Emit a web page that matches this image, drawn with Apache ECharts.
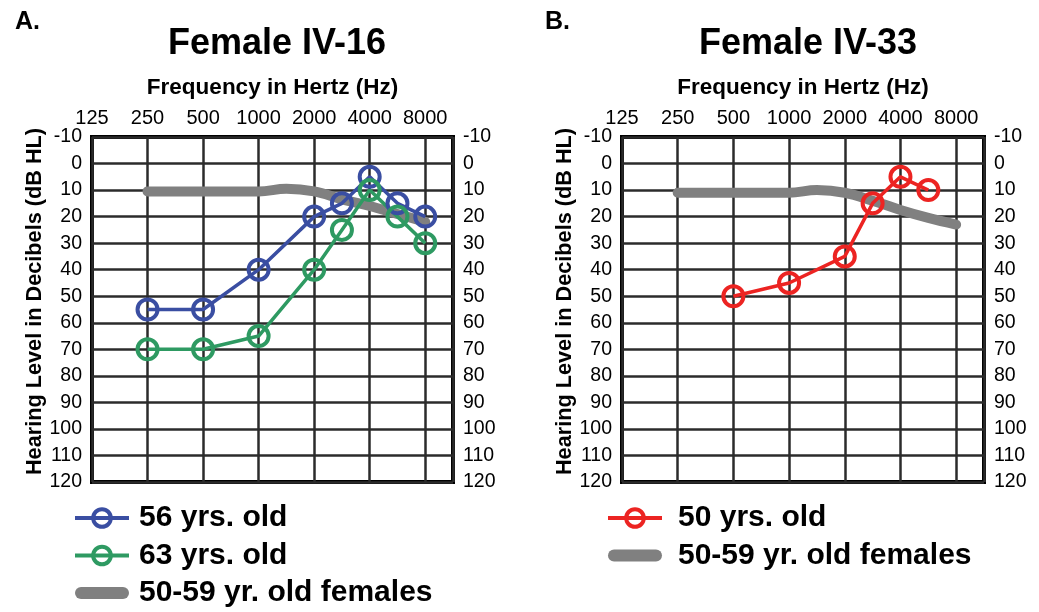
<!DOCTYPE html>
<html>
<head>
<meta charset="utf-8">
<script src="https://cdn.jsdelivr.net/npm/echarts@6/dist/echarts.min.js"></script>
<style>
    * { margin: 0; padding: 0; }
    body { background: #fff; }
</style>
</head>
<body>
<div id="chart" style="width:1039px; height:612px;"></div>
<script>
    // tick labels of the audiogram (Hz)
    var freqTicks = [125, 250, 500, 1000, 2000, 4000, 8000];

    // Female IV-16
    var freqA56 = [250, 500, 1000, 2000, 3000, 4000, 6000, 8000];
    var levelA56 = [55, 55, 40, 20, 15, 5, 15, 20];
    var freqA63 = [250, 500, 1000, 2000, 3000, 4000, 6000, 8000];
    var levelA63 = [70, 70, 65, 40, 25, 10, 20, 30];
    var freqNormA = [250, 500, 1000, 1500, 2000, 3000, 4000, 6000, 8000];
    var levelNormA = [10.5, 10.5, 10.5, 9.5, 10.5, 13.5, 16, 19, 22];

    // Female IV-33
    var freqB50 = [500, 1000, 2000, 3000, 4000, 6000];
    var levelB50 = [50, 45, 35, 15, 5, 10];
    var freqNormB = [250, 500, 1000, 1500, 2000, 3000, 4000, 6000, 8000];
    var levelNormB = [11, 11, 11, 10, 11, 14, 17.5, 20.5, 23];

    var FONT = '"Liberation Sans", Arial, sans-serif';
    var GRID_LINE = '#2b2b2b';
    // rounded bar used as legend icon of the normative band
    var BAND_ICON = 'path://M6,0 H48 A6,6 0 0 1 48,12 H6 A6,6 0 0 1 6,0 Z';

    // audiogram convention: octave steps, inter-octave freqs half way
    function octave(f) {
        return Math.round(Math.log2(f / 125) * 2) / 2;
    }
    function pts(freqs, levels) {
        return freqs.map(function (f, i) { return [octave(f), levels[i]]; });
    }

    function xAxis(gridIndex) {
        return {
            type: 'value', gridIndex: gridIndex, position: 'top',
            min: 0, max: 6.5, interval: 1,
            name: 'Frequency in Hertz (Hz)', nameLocation: 'middle', nameGap: 38,
            nameTextStyle: { fontFamily: FONT, fontWeight: 'bold', fontSize: 22.5, color: '#000' },
            axisLine: { show: false }, axisTick: { show: false },
            axisLabel: {
                margin: 9, fontFamily: FONT, fontSize: 20, color: '#000',
                formatter: function (v) {
                    return Number.isInteger(v) ? String(freqTicks[v]) : '';
                }
            },
            splitLine: { show: true, lineStyle: { color: GRID_LINE, width: 2.5 } }
        };
    }
    function yAxis(gridIndex, pos, named) {
        return {
            type: 'value', gridIndex: gridIndex, position: pos, inverse: true,
            min: -10, max: 120, interval: 10,
            name: named ? 'Hearing Level in Decibels (dB HL)' : '',
            nameLocation: 'middle', nameGap: 46,
            nameTextStyle: { fontFamily: FONT, fontWeight: 'bold', fontSize: 21.7, color: '#000', padding: [0, 0, 0, 16] },
            axisLine: { show: false }, axisTick: { show: false },
            axisLabel: { margin: 10, fontFamily: FONT, fontSize: 19.5, color: '#000' },
            splitLine: { show: named, lineStyle: { color: GRID_LINE, width: 2.5 } }
        };
    }
    function markedLine(name, color, data, xi, yi) {
        return {
            name: name, type: 'line', xAxisIndex: xi, yAxisIndex: yi, z: 3,
            data: data, symbol: 'circle', symbolSize: 20,
            lineStyle: { color: color, width: 3.5 },
            itemStyle: { color: 'rgba(0,0,0,0)', borderColor: color, borderWidth: 4 }
        };
    }
    function normLine(data, xi, yi) {
        return {
            name: '50-59 yr. old females', type: 'line', xAxisIndex: xi, yAxisIndex: yi, z: 2,
            data: data, symbol: 'none', smooth: 0.4,
            lineStyle: { color: '#808080', width: 10, cap: 'round' },
            itemStyle: { color: '#808080' }
        };
    }
    function legend(left, textGap, names) {
        return {
            left: left, top: 503, padding: 0, orient: 'vertical', itemGap: 7.5, itemWidth: 54, itemHeight: 22,
            textStyle: { fontFamily: FONT, fontWeight: 'bold', fontSize: 30, color: '#000', padding: [0, 0, 0, textGap] },
            lineStyle: { width: 4 },
            itemStyle: { borderWidth: 4 },
            selectedMode: false,
            data: names.map(function (n) {
                return n === '50-59 yr. old females' ? { name: n, icon: BAND_ICON } : { name: n };
            })
        };
    }

    var option = {
        animation: false,
        title: [
            { text: 'A.', left: 10, top: 5, textStyle: { fontFamily: FONT, fontWeight: 'bold', fontSize: 25, color: '#000' } },
            { text: 'Female IV-16', left: 272, top: 21, textAlign: 'center', textStyle: { fontFamily: FONT, fontWeight: 'bold', fontSize: 36, color: '#000' } },
            { text: 'B.', left: 540, top: 5, textStyle: { fontFamily: FONT, fontWeight: 'bold', fontSize: 25, color: '#000' } },
            { text: 'Female IV-33', left: 803, top: 21, textAlign: 'center', textStyle: { fontFamily: FONT, fontWeight: 'bold', fontSize: 36, color: '#000' } }
        ],
        grid: [
            { left: 92, top: 137, width: 361, height: 345, show: true, borderColor: '#000', borderWidth: 4, backgroundColor: '#fff' },
            { left: 622, top: 137, width: 362, height: 345, show: true, borderColor: '#000', borderWidth: 4, backgroundColor: '#fff' }
        ],
        xAxis: [xAxis(0), xAxis(1)],
        yAxis: [yAxis(0, 'left', true), yAxis(0, 'right', false), yAxis(1, 'left', true), yAxis(1, 'right', false)],
        legend: [
            legend(73, 5, ['56 yrs. old', '63 yrs. old', '50-59 yr. old females']),
            legend(606, 11, ['50 yrs. old', '50-59 yr. old females'])
        ],
        series: [
            normLine(pts(freqNormA, levelNormA), 0, 0),
            markedLine('56 yrs. old', '#3a4ea2', pts(freqA56, levelA56), 0, 0),
            markedLine('63 yrs. old', '#2e9a62', pts(freqA63, levelA63), 0, 0),
            normLine(pts(freqNormB, levelNormB), 1, 2),
            markedLine('50 yrs. old', '#ec2422', pts(freqB50, levelB50), 1, 2)
        ]
    };

    var myChart = echarts.init(document.getElementById('chart'));
    myChart.setOption(option);
</script>
</body>
</html>
